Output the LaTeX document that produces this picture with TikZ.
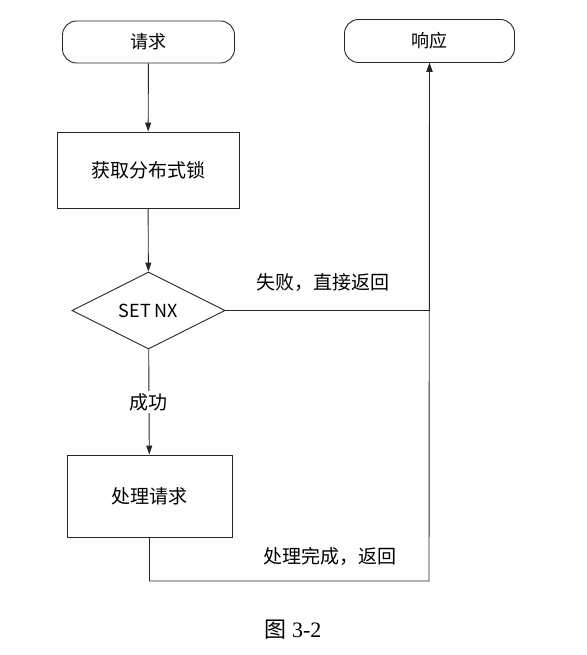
\documentclass[tikz,border=0pt]{standalone}
\usepackage{fontspec}
\setmainfont{Liberation Serif}
\newfontfamily\cjk{Noto Sans CJK SC}
\usetikzlibrary{arrows.meta, positioning, calc, shapes.geometric}

\begin{document}
\begin{tikzpicture}[x=1pt, y=-1pt, >={Triangle[length=9pt, width=6pt]},
    line width=0.9pt, draw=black!85,
    terminal/.style={rectangle, rounded corners=14pt, draw, minimum width=172pt, minimum height=42pt, font=\cjk\fontsize{18}{20}\selectfont},
    stepbox/.style={rectangle, draw, font=\cjk\fontsize{19}{21}\selectfont},
    decide/.style={diamond, draw, inner sep=0pt, minimum width=153pt, minimum height=77pt, font=\cjk\fontsize{18}{20}\selectfont},
    note/.style={font=\cjk\fontsize{19}{21}\selectfont}]
  \useasboundingbox (0,0) rectangle (586,655);

  \node[terminal] (req) at (148.5,42) {请求};
  \node[terminal, minimum width=170pt, minimum height=43pt] (resp) at (429.5,41) {响应};
  \node[stepbox, minimum width=182pt, minimum height=76pt] (lock) at (148,170) {获取分布式锁};
  \node[decide] (setnx) at (148.5,310.5) {SET NX};
  \node[stepbox, minimum width=165pt, minimum height=82pt] (proc) at (149.5,496) {处理请求};
  \coordinate (turn) at (429,581);

  \draw[->] (req) -- (lock);
  \draw[->] (lock) -- (setnx);
  \draw[->] (setnx) -- node[fill=white, note, inner sep=2pt] {成功} (proc);
  \draw[->] (setnx.east) -| node[pos=0.24, above=15pt, note] {失败，直接返回} (resp.south);
  \draw[->] (proc.south) |- (turn) -- (resp.south);
  \node[note] (done) at (330,556) {处理完成，返回};

  \node[font=\fontsize{22}{24}\selectfont] (caption) at (293,630) {{\cjk 图} 3-2};
\end{tikzpicture}
\end{document}
